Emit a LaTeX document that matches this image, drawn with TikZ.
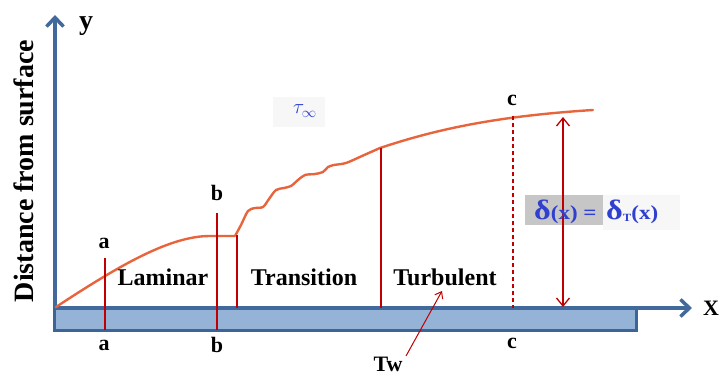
\documentclass[tikz,border=0pt]{standalone}
\usepackage{fontspec}
\usepackage{graphicx}
\setmainfont{Liberation Serif}
\usetikzlibrary{arrows.meta}
\definecolor{axisblue}{HTML}{41699C}
\definecolor{plateblue}{HTML}{95B3D7}
\definecolor{plateedge}{HTML}{3C6496}
\definecolor{curvered}{HTML}{E8643C}
\definecolor{linered}{HTML}{C00000}
\definecolor{labelblue}{HTML}{2F3FD0}
\definecolor{boxgray}{HTML}{C6C6C6}
\definecolor{faintgray}{HTML}{F7F7F7}
\tikzset{
  axisline/.style={draw=axisblue, line width=3.5pt, -{Straight Barb[length=9pt,width=17pt]}},
  redline/.style={draw=linered, line width=1.3pt},
  curveline/.style={draw=curvered, line width=2.4pt, line join=round, line cap=round},
  ptlabel/.style={font=\bfseries\fontsize{22}{26}\selectfont, inner sep=0, anchor=base},
  region/.style={font=\bfseries\fontsize{24}{28}\selectfont, inner sep=0, anchor=base},
  deltatext/.style={font=\bfseries, text=labelblue, inner sep=0, anchor=base west}
}
\begin{document}
\begin{tikzpicture}[x=1pt,y=-1pt]
\useasboundingbox (0,0) rectangle (721,377);

% faint text backgrounds
\fill[faintgray] (273,97) rectangle (325,127);
\fill[faintgray] (603,195) rectangle (680,230);
\fill[boxgray] (525,195) rectangle (603,225);

% plate
\draw[draw=plateedge, fill=plateblue, line width=3pt] (54,308) rectangle (636,330);

% axes
\coordinate (O) at (55,308);
\coordinate (Ytip) at (55,15);
\coordinate (Xtip) at (692,308);
\draw[axisline] (O) -- (Ytip);
\draw[axisline] (O) -- (Xtip);
\node[font=\bfseries\fontsize{28}{32}\selectfont, inner sep=0, anchor=base] (ylab) at (86,30) {y};
\node[font=\bfseries\fontsize{22}{26}\selectfont, inner sep=0, anchor=base west] (xlab) at (703,316) {X};
\node[font=\bfseries\fontsize{28}{32}\selectfont, inner sep=0, anchor=base, rotate=90] (dist) at (33,171) {Distance from surface};

% boundary-layer curve
\coordinate (C0) at (56,307);
\coordinate (C1) at (235,236);
\coordinate (C2) at (380,148);
\coordinate (C3) at (593,110);
\draw[curveline] (C0) .. controls (120,265) and (170,236) .. (210,236) -- (C1)
  plot[smooth, tension=0.5] coordinates {(235,236) (241,225) (248,211) (255,208) (263,207) (269,199) (276,190) (284,188) (291,186) (298,180) (305,175) (315,174) (323,172) (328,167) (334,165) (346,163) (362,156) (380,148)}
  (C2) .. controls (440,128) and (500,116) .. (C3);

% red section lines
\coordinate (aT) at (105,258); \coordinate (aB) at (105,330);
\coordinate (bT) at (217,213); \coordinate (bB) at (217,330);
\coordinate (tT) at (237,235); \coordinate (tB) at (237,308);
\coordinate (uT) at (381,148); \coordinate (uB) at (381,308);
\coordinate (cT) at (513,116); \coordinate (cB) at (513,308);
\coordinate (dT) at (563,117); \coordinate (dB) at (563,307);
\draw[redline] (aT) -- (aB);
\draw[redline] (bT) -- (bB);
\draw[redline] (tT) -- (tB);
\draw[redline] (uT) -- (uB);
\draw[redline, dash pattern=on 4pt off 3pt] (cT) -- (cB);
\draw[redline, {Straight Barb[length=8pt,width=13pt]}-{Straight Barb[length=8pt,width=13pt]}] (dT) -- (dB);

% point labels
\node[ptlabel] (a1) at (104,248) {a};
\node[ptlabel] (a2) at (104,350) {a};
\node[ptlabel] (b1) at (217,201) {b};
\node[ptlabel] (b2) at (217,352) {b};
\node[ptlabel] (c1) at (512,106) {c};
\node[ptlabel] (c2) at (512,348) {c};

% region labels
\node[region] (lam) at (163,285) {Laminar};
\node[region] (tra) at (304,285) {Transition};
\node[region] (tur) at (445,285) {Turbulent};

% Tw
\node[ptlabel] (tw) at (388,371) {Tw};
\coordinate (twS) at (406,356);
\coordinate (twE) at (442,291);
\draw[draw=linered, line width=1pt, -{Straight Barb[length=6pt,width=9pt]}] (twS) -- (twE);

% tau infinity
\node[text=labelblue, inner sep=0, font=\fontsize{22}{26}\selectfont] (tau) at (305,111) {$\tau_{\infty}$};

% delta label
\node[deltatext] (d1) at (534,219) {\scalebox{1.15}[1]{{\fontsize{28}{30}\selectfont δ}{\fontsize{20}{22}\selectfont(x) =}}};
\node[deltatext] (d2) at (606,219) {\scalebox{1.15}[1]{{\fontsize{28}{30}\selectfont δ}{\fontsize{11}{12}\selectfont\raisebox{-2pt}{T}}{\fontsize{20}{22}\selectfont(x)}}};
\end{tikzpicture}
\end{document}
